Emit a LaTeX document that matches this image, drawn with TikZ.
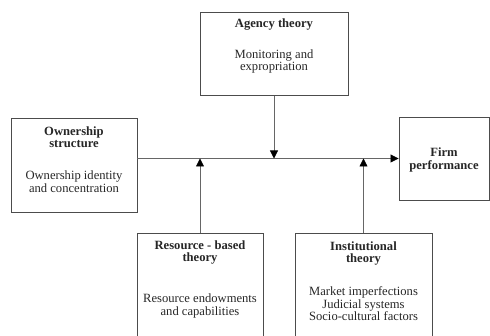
\documentclass[tikz,border=0pt]{standalone}
\usepackage{fontspec}
\setmainfont{Liberation Serif}
\usetikzlibrary{arrows.meta}
\begin{document}
\begin{tikzpicture}[x=1pt,y=-1pt,
  box/.style={draw=black!70,line width=0.9pt,rectangle,inner sep=0pt},
  txt/.style={inner sep=0pt,align=center,text=black!85,font=\fontsize{12.6}{12.4}\selectfont},
  ttl/.style={txt,font=\fontsize{12.6}{12.4}\selectfont\bfseries},
  conn/.style={draw=black!60,line width=0.8pt},
  arr/.style={conn,-{Triangle[width=8pt,length=8pt,color=black]}}]
\useasboundingbox (0,0) rectangle (490,336);
\clip (0,0) rectangle (490,336);
% boxes
\node[box,minimum width=126pt,minimum height=94pt] (own) at (74,165) {};
\node[box,minimum width=148pt,minimum height=83pt] (agency) at (274,54) {};
\node[box,minimum width=90pt,minimum height=83pt] (firm) at (444,158.5) {};
\node[box,minimum width=126pt,minimum height=112pt] (res) at (200,289) {};
\node[box,minimum width=137pt,minimum height=112pt] (inst) at (363.5,289) {};
% texts
\node[ttl] (ownT) at (74,137.5) {Ownership\\structure};
\node[txt] (ownB) at (74,181.5) {Ownership identity\\and concentration};
\node[ttl] (agT) at (274,25) {Agency theory};
\node[txt] (agB) at (274,61.5) {Monitoring and\\expropriation};
\node[ttl] (firmT) at (444,160) {Firm\\performance};
\node[ttl] (resT) at (200,252.5) {Resource - based\\theory};
\node[txt] (resB) at (200,306) {Resource endowments\\and capabilities};
\node[ttl] (instT) at (363.5,253.5) {Institutional\\theory};
\node[txt] (instB) at (363.5,304) {Market imperfections\\Judicial systems\\Socio-cultural factors};
% connectors
\coordinate (oe) at (own.east |- firm.west);
\coordinate (ja) at (agency.south |- firm.west);
\coordinate (jr) at (res.north |- firm.west);
\coordinate (ji) at (inst.north |- firm.west);
\draw[arr] (oe) -- (firm.west);
\draw[arr] (agency.south) -- (ja);
\draw[arr] (res.north) -- (jr);
\draw[arr] (inst.north) -- (ji);
\end{tikzpicture}
\end{document}
